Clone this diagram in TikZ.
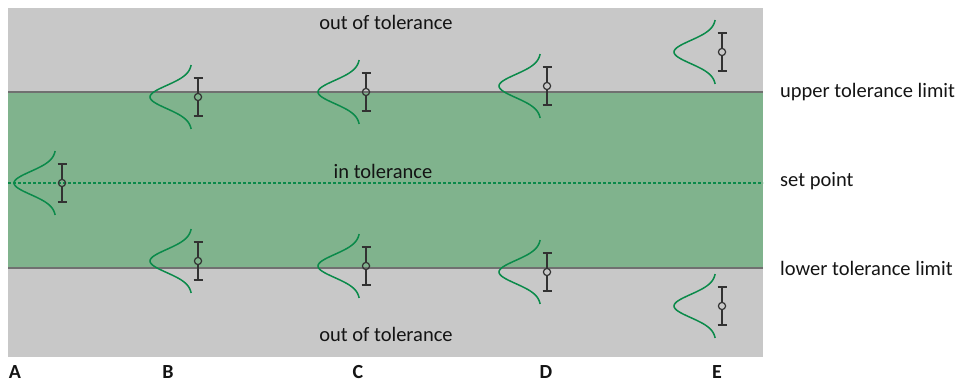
\documentclass[tikz,border=0pt]{standalone}
\usepackage{fontspec}
\setmainfont{Carlito}
\usepackage{tikz}
\usetikzlibrary{positioning, calc, backgrounds}
\definecolor{zonegray}{RGB}{200,200,200}
\definecolor{zonegreen}{RGB}{128,179,141}
\definecolor{limitgray}{RGB}{112,112,112}
\definecolor{bellgreen}{RGB}{10,138,74}
\definecolor{bardark}{RGB}{50,50,50}
\definecolor{txtdark}{RGB}{20,20,20}
\tikzset{
  zonelabel/.style={font=\fontsize{20.5}{24}\selectfont, text=txtdark, inner sep=0pt},
  sidelabel/.style={font=\fontsize{20.5}{24}\selectfont, text=txtdark, anchor=west, inner sep=0pt},
  caselabel/.style={font=\fontsize{20}{24}\selectfont\bfseries, text=txtdark, inner sep=0pt},
  limitline/.style={line width=1.8pt, color=limitgray},
  setline/.style={line width=1.4pt, color=bellgreen, dash pattern=on 2.5pt off 2.5pt},
  bell/.style={line width=1.5pt, color=bellgreen},
  ebar/.style={line width=1.2pt, color=bardark}
}
% one measurement: bell curve plus uncertainty bar
\newcommand{\measure}[2]{%
  \draw[bell] plot[domain=-32:32, samples=49, smooth]
    ({#1-6-42*exp(-(\x*\x)/(2*11.5*11.5))}, {#2+\x});
  \draw[ebar] (#1,#2-19) -- (#1,#2-3.6) (#1,#2+3.6) -- (#1,#2+19)
    (#1-4.5,#2-19) -- (#1+4.5,#2-19) (#1-4.5,#2+19) -- (#1+4.5,#2+19);
  \draw[ebar] (#1,#2) circle[radius=3.6pt];
}

\begin{document}
\begin{tikzpicture}[x=1pt, y=-1pt]
  \useasboundingbox (0,0) rectangle (955,385);

  % Zones
  \fill[zonegray] (8,8) rectangle (763,357);
  \fill[zonegreen] (8,92) rectangle (763,268);
  \draw[limitline] (8,92) coordinate (utl) -- (763,92) coordinate (utr);
  \draw[limitline] (8,268) coordinate (ltl) -- (763,268) coordinate (ltr);
  \draw[setline] (8,183) coordinate (spl) -- (763,183) coordinate (spr);

  % Labels
  \node[zonelabel] (outtop) at (386,22) {out of tolerance};
  \node[zonelabel] (intol) at (383,171) {in tolerance};
  \node[zonelabel] (outbot) at (386,334) {out of tolerance};
  \node[sidelabel] (upper) at (780,92) {upper tolerance limit};
  \node[sidelabel] (setpt) at (780,181) {set point};
  \node[sidelabel] (lower) at (780,268) {lower tolerance limit};

  % Cases
  \foreach \cx/\cy/\nm in {62/183/A, 198/97/B, 366/92/C, 547/86/D, 722/52/E,
                           198/261/B, 366/266/C, 547/272/D, 722/306/E}
    \measure{\cx}{\cy};
  \foreach \lx/\nm in {15/A, 168/B, 358/C, 546/D, 717/E}
    \node[caselabel] (case\nm) at (\lx,372) {\nm};

\end{tikzpicture}
\end{document}
